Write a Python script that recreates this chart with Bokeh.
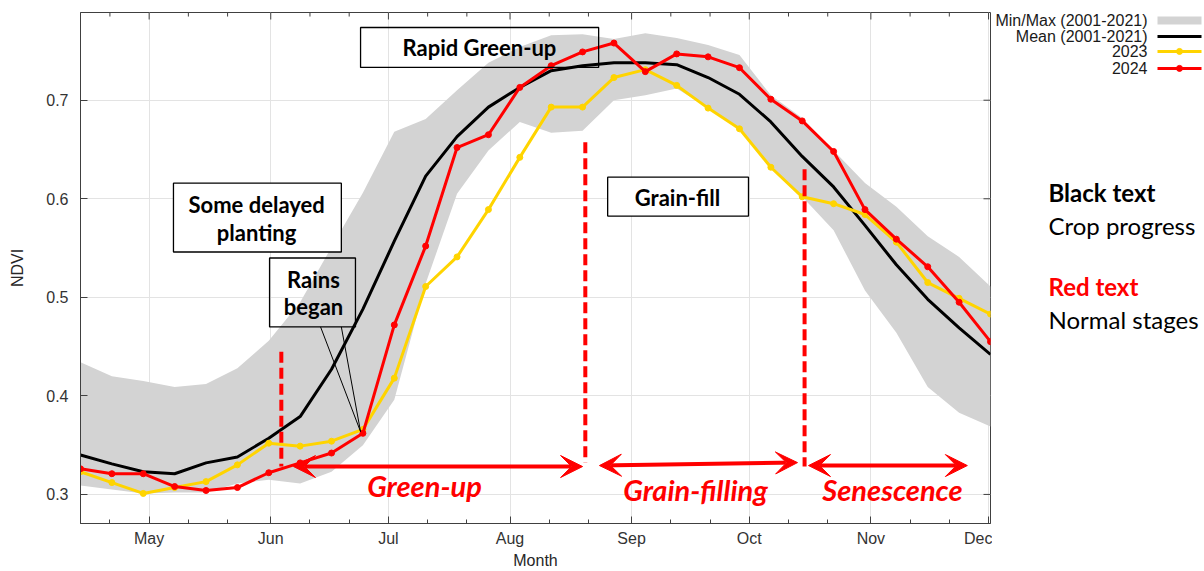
from bokeh.plotting import figure
from bokeh.layouts import row
from bokeh.models import (FixedTicker, Label, BoxAnnotation, Arrow, VeeHead)
from bokeh.embed import file_html
from bokeh.resources import INLINE

# ---------------- data ----------------
days = [103.5, 111.5, 119.5, 127.5, 135.5, 143.5, 151.5, 159.5, 167.5, 175.5,
        183.5, 191.5, 199.5, 207.5, 215.5, 223.5, 231.5, 239.5, 247.5, 255.5,
        263.5, 271.5, 279.5, 287.5, 295.5, 303.5, 311.5, 319.5, 327.5, 335.5]

ndvi_min = [0.309, 0.305, 0.301, 0.302, 0.302, 0.311, 0.315, 0.311, 0.323, 0.350,
            0.396, 0.514, 0.605, 0.649, 0.678, 0.667, 0.669, 0.700, 0.705, 0.712,
            0.692, 0.670, 0.632, 0.602, 0.568, 0.507, 0.464, 0.409, 0.383, 0.369]
ndvi_max = [0.434, 0.420, 0.415, 0.409, 0.412, 0.428, 0.456, 0.495, 0.551, 0.606,
            0.668, 0.681, 0.710, 0.738, 0.754, 0.766, 0.767, 0.762, 0.768, 0.763,
            0.756, 0.746, 0.705, 0.682, 0.649, 0.616, 0.592, 0.562, 0.541, 0.511]
ndvi_mean = [0.340, 0.331, 0.323, 0.321, 0.332, 0.338, 0.357, 0.379, 0.427, 0.488,
             0.557, 0.623, 0.663, 0.693, 0.713, 0.730, 0.735, 0.738, 0.738, 0.736,
             0.723, 0.706, 0.678, 0.643, 0.612, 0.573, 0.533, 0.498, 0.469, 0.442]
ndvi_2023 = [0.323, 0.312, 0.301, 0.307, 0.313, 0.330, 0.352, 0.349, 0.354, 0.366,
             0.418, 0.511, 0.541, 0.589, 0.642, 0.693, 0.693, 0.723, 0.731, 0.715,
             0.692, 0.671, 0.632, 0.602, 0.595, 0.584, 0.556, 0.515, 0.499, 0.483]
ndvi_2024 = [0.326, 0.321, 0.321, 0.308, 0.304, 0.307, 0.322, 0.332, 0.342, 0.362,
             0.472, 0.552, 0.652, 0.665, 0.713, 0.735, 0.749, 0.758, 0.729, 0.747,
             0.744, 0.733, 0.701, 0.679, 0.648, 0.589, 0.559, 0.531, 0.495, 0.455]

month_ticks = [121, 152, 182, 213, 244, 274, 305, 335]
month_labels = ["May", "Jun", "Jul", "Aug", "Sep", "Oct", "Nov", "Dec"]
dekad_ticks = [111, 121, 131, 141, 152, 162, 172, 182, 192, 202, 213, 223, 233,
               244, 254, 264, 274, 284, 294, 305, 315, 325, 335]
ndvi_ticks = [0.3, 0.4, 0.5, 0.6, 0.7]
ndvi_tick_labels = ["0.3", "0.4", "0.5", "0.6", "0.7"]

legend_labels = ["Min/Max (2001-2021)", "Mean (2001-2021)", "2023", "2024"]

# ---------------- styles ----------------
AX = "#404040"
TICK_FONT = "Liberation Sans"
ANN_FONT = "Lato"
C_BAND = "#d3d3d3"
C_MEAN = "black"
C_2023 = "#FFD400"
C_2024 = "#FF0000"

X0, X1 = 103.5, 335.5
Y0, Y1 = 0.2705, 0.789

p = figure(width=992, height=571, x_range=(X0, X1), y_range=(Y0, Y1),
           output_backend="svg", toolbar_location=None,
           min_border_left=80, min_border_right=2, min_border_top=12,
           min_border_bottom=47)
p.background_fill_color = "white"
p.border_fill_color = "white"
p.outline_line_color = AX

xt = FixedTicker(ticks=month_ticks, minor_ticks=dekad_ticks)
yt = FixedTicker(ticks=ndvi_ticks)

xa = p.xaxis[0]
xa.ticker = xt
xa.major_label_overrides = {t: l for t, l in zip(month_ticks, month_labels)}
xa.axis_label = "Month"
xa.axis_label_standoff = 2
ya = p.yaxis[0]
ya.ticker = yt
ya.major_label_overrides = {t: l for t, l in zip(ndvi_ticks, ndvi_tick_labels)}
ya.axis_label = "NDVI"
ya.axis_label_standoff = 17

for ax in (xa, ya):
    ax.major_tick_in = 7
    ax.major_tick_out = 0
    ax.minor_tick_in = 4
    ax.minor_tick_out = 0
    ax.axis_line_color = AX
    ax.major_tick_line_color = AX
    ax.minor_tick_line_color = AX
    ax.major_label_text_font = TICK_FONT
    ax.major_label_text_font_size = "16px"
    ax.major_label_text_color = "#333333"
    ax.axis_label_text_font = TICK_FONT
    ax.axis_label_text_font_size = "16px"
    ax.axis_label_text_font_style = "normal"
    ax.axis_label_text_color = "#262626"
xa.major_label_standoff = 6
ya.major_label_standoff = 12

p.xgrid.ticker = xt
p.ygrid.ticker = yt
p.xgrid.grid_line_color = "#e3e3e3"
p.ygrid.grid_line_color = "#e3e3e3"

# inward ticks on the top and right edges of the box
TDY_MAJ, TDY_MIN, TDX_MAJ = 0.0071, 0.0041, 1.785
minor_only = [d for d in dekad_ticks if d not in month_ticks]
p.segment(x0=month_ticks, x1=month_ticks, y0=[Y1] * len(month_ticks),
          y1=[Y1 - TDY_MAJ] * len(month_ticks), line_color=AX, line_width=1)
p.segment(x0=minor_only, x1=minor_only, y0=[Y1] * len(minor_only),
          y1=[Y1 - TDY_MIN] * len(minor_only), line_color=AX, line_width=1)
p.segment(x0=[X1] * len(ndvi_ticks), x1=[X1 - TDX_MAJ] * len(ndvi_ticks),
          y0=ndvi_ticks, y1=ndvi_ticks, line_color=AX, line_width=1)

# ---------------- series ----------------
p.varea(x=days, y1=ndvi_min, y2=ndvi_max, fill_color=C_BAND)
p.line(days, ndvi_mean, line_color=C_MEAN, line_width=3)
p.line(days, ndvi_2023, line_color=C_2023, line_width=3)
p.scatter(days, ndvi_2023, size=6, fill_color=C_2023, line_color=C_2023)
p.line(days, ndvi_2024, line_color=C_2024, line_width=3)
p.scatter(days, ndvi_2024, size=6, fill_color=C_2024, line_color=C_2024)

# ---------------- annotations (data units: day of year, NDVI) ----------------
boxes = [
    (174.9, 235.6, 0.7738, 0.7333, None),      # Rapid Green-up
    (127.2, 170.0, 0.6158, 0.5460, "white"),   # Some delayed planting
    (151.7, 173.6, 0.5399, 0.4700, None),      # Rains began
    (237.9, 273.8, 0.6219, 0.5824, "white"),   # Grain-fill
]
for l, r, t, b, fc in boxes:
    p.add_layout(BoxAnnotation(left=l, right=r, top=t, bottom=b,
                               fill_color=fc if fc else "white",
                               fill_alpha=1 if fc else 0,
                               line_color="black", line_alpha=1, line_width=1.3))

for xs in (164.7, 170.0):
    p.add_layout(Arrow(end=None, x_start=xs, y_start=0.4700, x_end=174.9, y_end=0.3637,
                       line_color="black", line_width=1))

box_texts = [
    ("Rapid Green-up", 205.2, 0.7536),
    ("Some delayed", 148.4, 0.5946),
    ("planting", 148.4, 0.5662),
    ("Rains", 162.9, 0.5176),
    ("began", 162.9, 0.4903),
    ("Grain-fill", 255.7, 0.6017),
]
for txt, xx, yy in box_texts:
    p.add_layout(Label(x=xx, y=yy, text=txt, text_align="center", text_baseline="middle",
                       text_font=ANN_FONT, text_font_style="bold",
                       text_font_size="22px", text_color="black"))

stage_lines = [(154.7, 0.4447, 0.3283), (232.2, 0.6574, 0.3323), (288.1, 0.6300, 0.3283)]
p.segment(x0=[s[0] for s in stage_lines], y0=[s[1] for s in stage_lines],
          x1=[s[0] for s in stage_lines], y1=[s[2] for s in stage_lines],
          line_color=C_2024, line_width=4, line_dash="11 5")

stage_arrows = [(157.8, 0.3283, 231.5, 0.3283), (235.8, 0.3293, 286.3, 0.3323),
                (289.1, 0.3293, 329.6, 0.3293)]
for x0, y0, x1, y1 in stage_arrows:
    p.add_layout(Arrow(start=VeeHead(size=22, fill_color=C_2024, line_color=C_2024),
                       end=VeeHead(size=22, fill_color=C_2024, line_color=C_2024),
                       x_start=x0, y_start=y0, x_end=x1, y_end=y1,
                       line_color=C_2024, line_width=4))

stage_texts = [("Green-up", 191.2, 0.3090), ("Grain-filling", 260.3, 0.3050),
               ("Senescence", 310.5, 0.3050)]
for txt, xx, yy in stage_texts:
    p.add_layout(Label(x=xx, y=yy, text=txt, text_align="center", text_baseline="middle",
                       text_font=ANN_FONT, text_font_style="bold italic",
                       text_font_size="29px", text_color=C_2024))

# ---------------- side panel: legend and key (coordinates = pixels) ----------------
# the row aligns this frame with the main frame (pixel rows 12..524)
s = figure(width=212, height=571, x_range=(992, 1204), y_range=(524, 12),
           output_backend="svg", toolbar_location=None,
           min_border_left=0, min_border_right=0,
           min_border_top=12, min_border_bottom=47)
s.axis.visible = False
s.grid.visible = False
s.outline_line_color = None
s.background_fill_color = "white"
s.border_fill_color = "white"

SW_L, SW_R, SW_MID = 1157, 1201, 1179
row_y = [20, 36, 51, 68]
s.quad(left=[SW_L], right=[SW_R], top=[row_y[0] - 4], bottom=[row_y[0] + 4],
       fill_color=C_BAND, line_color=None)
s.segment(x0=[SW_L] * 3, x1=[SW_R] * 3, y0=row_y[1:], y1=row_y[1:],
          line_color=[C_MEAN, C_2023, C_2024], line_width=3)
s.scatter(x=[SW_MID, SW_MID], y=row_y[2:], size=6,
          fill_color=[C_2023, C_2024], line_color=[C_2023, C_2024])
for lab, yy in zip(legend_labels, row_y):
    s.add_layout(Label(x=1147, y=yy, text=lab, text_align="right",
                       text_baseline="middle", text_font=TICK_FONT,
                       text_font_size="16px", text_color="#1a1a1a"))

key = [("Black text", 192, "bold", "black"), ("Crop progress", 225, "normal", "black"),
       ("Red text", 287, "bold", C_2024), ("Normal stages", 320, "normal", "black")]
for txt, yy, st, col in key:
    s.add_layout(Label(x=1048, y=yy, text=txt, text_align="left", text_baseline="middle",
                       text_font=ANN_FONT, text_font_style=st,
                       text_font_size="24px", text_color=col))

layout = row(p, s, spacing=0)
open("out.html", "w").write(file_html(layout, INLINE))
